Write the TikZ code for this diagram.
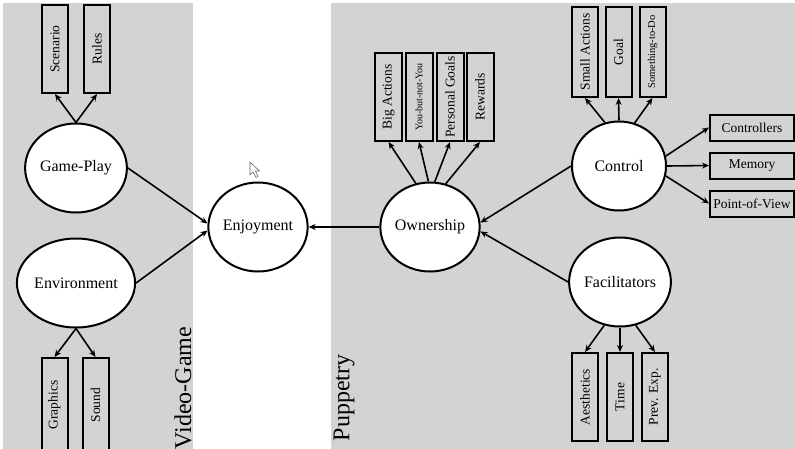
\documentclass[tikz,border=0pt]{standalone}
\usepackage{fontspec}
\setmainfont{Liberation Serif}
\usetikzlibrary{shapes.geometric,arrows.meta}
\definecolor{panel}{RGB}{211,211,211}
\begin{document}
\begin{tikzpicture}[x=1pt,y=-1pt,
  bubble/.style={ellipse,draw,line width=2pt,fill=white,minimum width=94pt,minimum height=89pt,inner sep=0pt,font=\fontsize{16}{18}\selectfont},
  vbox/.style={rectangle,draw,line width=2pt,fill=panel,minimum width=26pt,minimum height=88pt,inner sep=0pt,font=\fontsize{13.5}{15}\selectfont},
  hbox/.style={rectangle,draw,line width=2pt,fill=panel,minimum width=84pt,minimum height=26pt,inner sep=0pt,font=\fontsize{13.5}{15}\selectfont},
  link/.style={line width=1.6pt,-{Stealth[length=7pt,width=6pt]}},
  side/.style={font=\fontsize{24}{28}\selectfont,rotate=90,inner sep=0pt}]
\useasboundingbox (0,0) rectangle (795,448);
% panels
\fill[panel] (3,3) rectangle (193,452);
\fill[panel] (331,3) rectangle (800,452);
% side labels
\node[side] (vg) at (183,388) {Video-Game};
\node[side] (pup) at (344,398) {Puppetry};
% bubbles
\node[bubble] (gp) at (76,168) {Game-Play};
\node[bubble] (env) at (76,283) {Environment};
\node[bubble] (enj) at (258,227) {Enjoyment};
\node[bubble] (own) at (430,227) {Ownership};
\node[bubble] (ctrl) at (619,166) {Control};
\node[bubble] (fac) at (620,282) {Facilitators};
% video-game boxes
\node[vbox] (scen) at (55,49) {\rotatebox{90}{Scenario}};
\node[vbox] (rules) at (97,49) {\rotatebox{90}{Rules}};
\node[vbox,minimum height=94pt] (gfx) at (54.5,405) {\rotatebox{90}{Graphics}};
\node[vbox,minimum height=94pt] (snd) at (95.5,405) {\rotatebox{90}{Sound}};
% ownership boxes
\node[vbox,minimum width=27pt] (big) at (388.5,97) {\rotatebox{90}{Big Actions}};
\node[vbox,minimum width=27pt,font=\fontsize{10}{12}\selectfont] (you) at (419,97) {\rotatebox{90}{You-but-not-You}};
\node[vbox,minimum width=27pt] (pers) at (450,97) {\rotatebox{90}{Personal Goals}};
\node[vbox,minimum width=27pt] (rew) at (480,97) {\rotatebox{90}{Rewards}};
% control boxes
\node[vbox,minimum height=90pt] (small) at (585,52) {\rotatebox{90}{Small Actions}};
\node[vbox,minimum height=90pt] (goal) at (618.5,52) {\rotatebox{90}{Goal}};
\node[vbox,minimum height=90pt,font=\fontsize{10.5}{12}\selectfont] (some) at (652.5,52) {\rotatebox{90}{Something-to-Do}};
\node[hbox] (contr) at (752,127.5) {Controllers};
\node[hbox] (mem) at (752,165.5) {Memory};
\node[hbox] (pov) at (752,203.5) {Point-of-View};
% facilitator boxes
\node[vbox] (aes) at (585,397) {\rotatebox{90}{Aesthetics}};
\node[vbox] (time) at (620,397) {\rotatebox{90}{Time}};
\node[vbox] (prev) at (655,397) {\rotatebox{90}{Prev. Exp.}};
% connectors
\draw[link] (gp.north) -- (scen.south);
\draw[link] (gp.north) -- (rules.south);
\draw[link] (env.south) -- (gfx.north);
\draw[link] (env.south) -- (snd.north);
\draw[link] (gp.east) -- (enj.176);
\draw[link] (env.east) -- (enj.184);
\draw[link] (own.west) -- (enj.east);
\draw[link] (own.108) -- (big.south);
\draw[link] (own.92) -- (you.south);
\draw[link] (own.84) -- (pers.south);
\draw[link] (own.70) -- (rew.south);
\draw[link] (ctrl.180) -- (own.5);
\draw[link] (fac.west) -- (own.-5);
\draw[link] (ctrl.108) -- (small.south);
\draw[link] (ctrl.north) -- (goal.south);
\draw[link] (ctrl.70) -- (some.south);
\draw[link] (ctrl.12) -- (contr.west);
\draw[link] (ctrl.east) -- (mem.west);
\draw[link] (ctrl.-12) -- (pov.west);
\draw[link] (fac.250) -- (aes.north);
\draw[link] (fac.south) -- (time.north);
\draw[link] (fac.290) -- (prev.north);
% mouse pointer
\draw[line width=0.6pt,draw=black!60,fill=white,line join=round] (250,162) -- (250,175) -- (253,172) -- (256,177.5) -- (258,176.5) -- (255.5,171) -- (259.5,171) -- cycle;
\end{tikzpicture}
\end{document}
